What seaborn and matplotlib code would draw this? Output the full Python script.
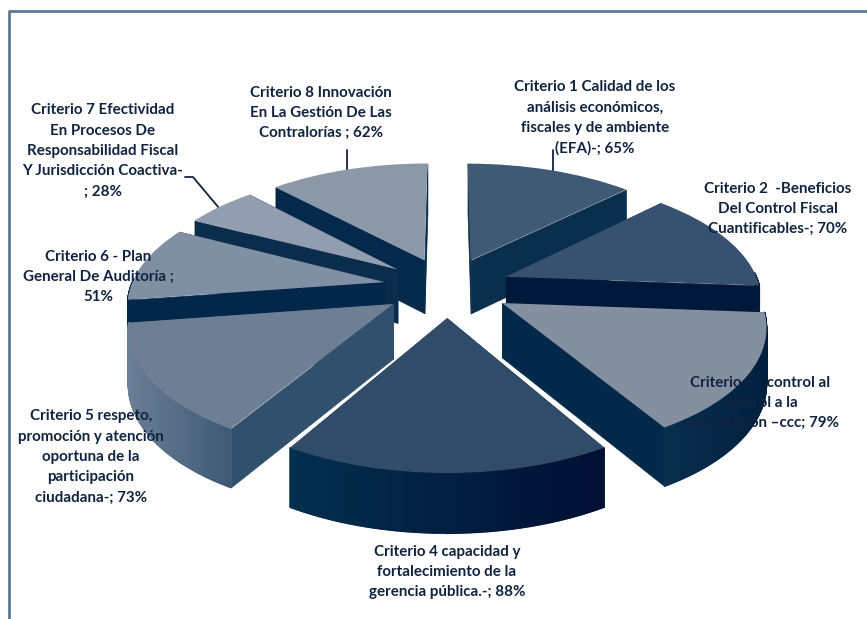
import numpy as np
import matplotlib
matplotlib.use('Agg')
import matplotlib.pyplot as plt
from matplotlib.collections import PolyCollection
from matplotlib.transforms import Transform
import seaborn as sns

# values as printed on the labels
values = [65, 70, 79, 88, 73, 51, 28, 62]
labels = [
    'Criterio 1 Calidad de los\nanálisis económicos,\nfiscales y de ambiente\n(EFA)-; 65%',
    'Criterio 2  -Beneficios\nDel Control Fiscal\nCuantificables-; 70%',
    'Criterio 3 - control al\ncontrol a la\ncontratación –ccc; 79%',
    'Criterio 4 capacidad y\nfortalecimiento de la\ngerencia pública.-; 88%',
    'Criterio 5 respeto,\npromoción y atención\noportuna de la\nparticipación\nciudadana-; 73%',
    'Criterio 6 - Plan\nGeneral De Auditoría ;\n51%',
    'Criterio 7 Efectividad\nEn Procesos De\nResponsabilidad Fiscal\nY Jurisdicción Coactiva-\n; 28%',
    'Criterio 8 Innovación\nEn La Gestión De Las\nContralorías ; 62%',
]
label_x = [595, 778, 760, 447, 91, 98, 103, 321]
label_y = [118, 209, 403, 572, 457, 277, 151, 113]

top_colors = ['#3f5a74', '#375270', '#84909f', '#314c68', '#6e7f94', '#818fa3', '#929eaf', '#8a98a8']
wall_colors = ['#0a2f4d', '#00183a', '#03294a', '#042f4e', '#31506c', '#02274a', '#0a2d4d', '#04294a']
arc_left = ['#0a2f4d', '#00183a', '#0a2f4e', '#042f4e', '#6b7f95', '#02274a', '#0a2d4d', '#04294a']
arc_right = ['#0a2f4d', '#00183a', '#001f3f', '#000f33', '#3f5a76', '#02274a', '#0a2d4d', '#04294a']

text_color = '#10233f'
frame_color = '#5f7896'

# projection of the pie plane onto the picture, fitted by eye
CX, CY = 447, 287
A, B, P = 254, 119.6, 0.157
DEPTH = 54


def project(x, y, z=0.0):
    s = 1 / (1 + P * y)
    return CX + A * x * s, CY - B * y * s + DEPTH * z * np.sqrt(s)


class Tilt(Transform):
    input_dims = 2
    output_dims = 2

    def transform_non_affine(self, values):
        px, py = project(values[:, 0], values[:, 1])
        return np.column_stack([px, py])


sns.set_theme(style='white')
plt.rcParams['font.family'] = ['Lato', 'DejaVu Sans']

fig = plt.figure(figsize=(8.67, 6.19), dpi=100, facecolor='white')
ax = fig.add_axes([0, 0, 1, 1])

wedges, _ = ax.pie(values, explode=[0.25] * len(values), startangle=90, counterclock=False,
                   colors=top_colors, wedgeprops={'linewidth': 0})
ax.set_aspect('auto')
ax.set_xlim(0, 867)
ax.set_ylim(619, 0)
ax.axis('off')

tilt = Tilt()


def wall_poly(x0, y0, x1, y1):
    p = [project(x0, y0, 0), project(x1, y1, 0), project(x1, y1, 1), project(x0, y0, 1)]
    return np.array(p)


# back slices first
order = sorted(range(len(wedges)), key=lambda i: -wedges[i].center[1])
for rank, i in enumerate(order):
    w = wedges[i]
    cx, cy = w.center
    t = np.radians(np.linspace(w.theta1, w.theta2, 200))
    xs, ys = cx + w.r * np.cos(t), cy + w.r * np.sin(t)
    z = 2 + rank * 3

    # the two straight cut walls, then the curved rim
    for k in (0, -1):
        poly = wall_poly(cx, cy, xs[k], ys[k])
        ax.add_collection(PolyCollection([poly], facecolors=wall_colors[i], edgecolors=wall_colors[i],
                                         linewidths=0.5, zorder=z))

    # only the part of the rim that faces the viewer
    strips = [wall_poly(xs[j], ys[j], xs[j + 1], ys[j + 1]) for j in range(len(t) - 1) if np.sin(t[j]) < 0.03]
    if strips:
        mids = np.array([s[:2, 0].mean() for s in strips])
        shades = sns.blend_palette([arc_left[i], arc_right[i]], 200)
        pos = (mids - mids.min()) / max(mids.max() - mids.min(), 1)
        cols = [shades[int(v * 199)] for v in pos]
        ax.add_collection(PolyCollection(strips, facecolors=cols, edgecolors=cols, linewidths=1.0, zorder=z + 1))

    w.set_transform(tilt + ax.transData)
    w.set_zorder(z + 2)

# leader lines and frame
line_kw = {'color': text_color, 'lw': 1.3, 'zorder': 1}
ax.plot([553, 553], [150, 172], **line_kw)
ax.plot([347, 347], [150, 171], **line_kw)
ax.plot([185, 193, 219], [177, 177, 208], **line_kw)
ax.plot([9, 9, 867], [619, 11, 11], color=frame_color, lw=2, zorder=1)

for text, x, y in zip(labels, label_x, label_y):
    ax.text(x, y, text, ha='center', va='center', fontsize=10.9, fontweight='bold', color=text_color,
            linespacing=1.57, zorder=60)

fig.savefig('out.png', dpi=100, facecolor='white')
